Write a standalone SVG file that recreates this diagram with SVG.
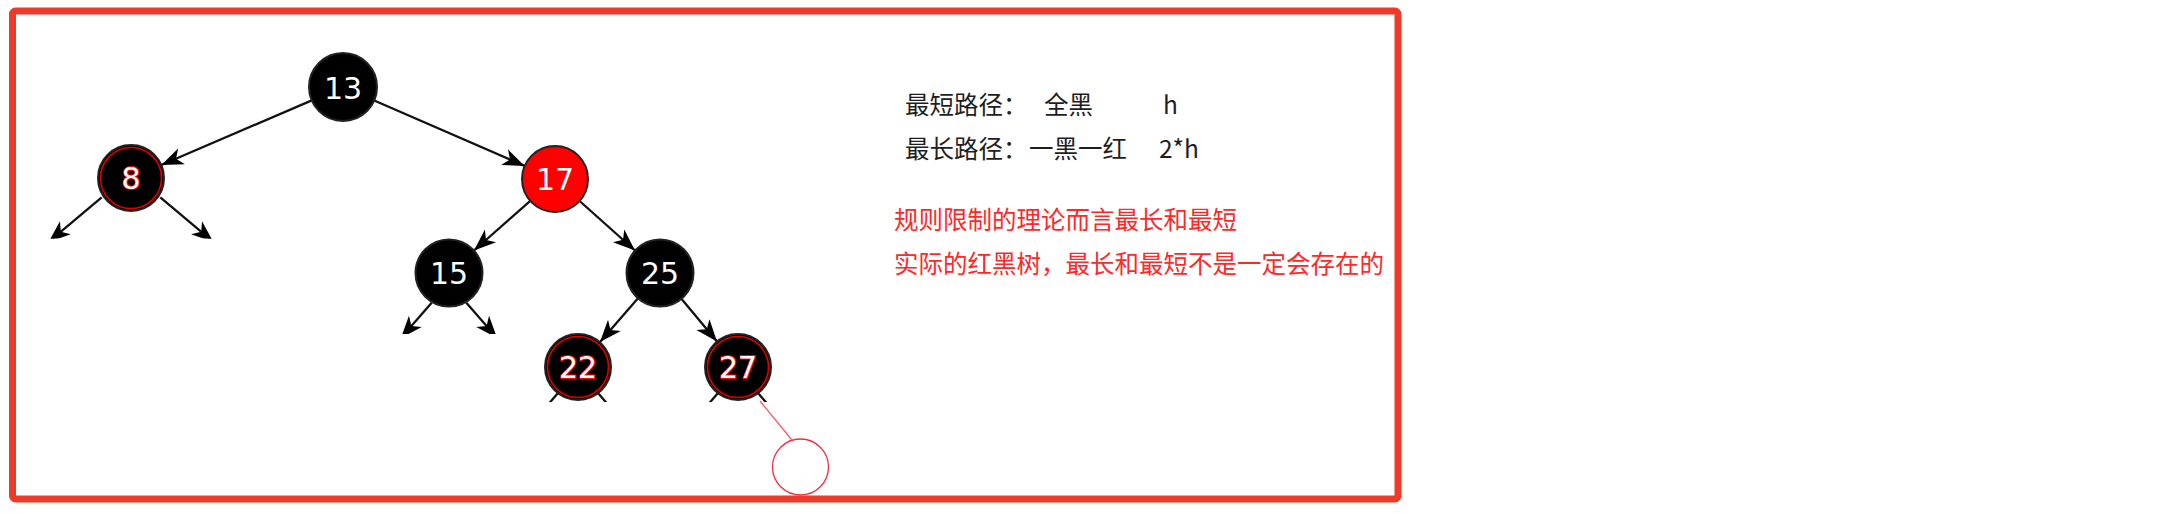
<svg xmlns="http://www.w3.org/2000/svg" width="2164" height="513" viewBox="0 0 2164 513">
<style>
.edge{stroke:#111;stroke-width:2.3;fill:none}
.blk{fill:#000;stroke:#222;stroke-width:2}
.red{fill:#ff0000;stroke:#222;stroke-width:2}
.ring{fill:none;stroke:#e00000;stroke-width:1.6}
.num{font-family:"DejaVu Sans",sans-serif;font-size:30px;text-anchor:middle;fill:#fff}
.rnum{font-family:"DejaVu Sans",sans-serif;font-size:30px;text-anchor:middle;fill:#fff;stroke:#ff0000;stroke-width:2;paint-order:stroke}
.cn{font-family:"Noto Sans CJK SC",sans-serif;font-size:24.5px;fill:#1e1e1e}
.cnr{font-family:"Noto Sans CJK SC",sans-serif;font-size:24.5px;fill:#ff2828}
</style>
<defs>
<marker id="arr" markerUnits="userSpaceOnUse" markerWidth="26" markerHeight="20" viewBox="-23 -10 24 20" refX="0" refY="0" orient="auto">
<path d="M0,0 L-22,-8.5 L-16,0 L-22,8.5 Z" fill="#000"/>
</marker>
<clipPath id="c1"><rect x="0" y="0" width="1400" height="238.5"/></clipPath>
<clipPath id="c2"><rect x="0" y="0" width="1400" height="334"/></clipPath>
<clipPath id="c3"><rect x="0" y="0" width="1400" height="402"/></clipPath>
</defs>
<rect width="2164" height="513" fill="#fff"/>
<g id="connectors">
<line class="edge" x1="311.8" y1="100.4" x2="161.3" y2="165" marker-end="url(#arr)"/>
<line class="edge" x1="374.2" y1="100.5" x2="524.7" y2="165.9" marker-end="url(#arr)"/>
<line class="edge" x1="530.3" y1="200.9" x2="474" y2="250.5" marker-end="url(#arr)"/>
<line class="edge" x1="579.6" y1="201" x2="635" y2="250.5" marker-end="url(#arr)"/>
<line class="edge" x1="638" y1="298.3" x2="600" y2="342" marker-end="url(#arr)"/>
<line class="edge" x1="681.4" y1="298.8" x2="717" y2="341.6" marker-end="url(#arr)"/>
<g clip-path="url(#c1)">
<line class="edge" x1="101.7" y1="197.3" x2="48.6" y2="242" marker-end="url(#arr)"/>
<line class="edge" x1="160.3" y1="197.3" x2="213.4" y2="242" marker-end="url(#arr)"/>
</g>
<g clip-path="url(#c2)">
<line class="edge" x1="431.7" y1="302.7" x2="400.9" y2="338" marker-end="url(#arr)"/>
<line class="edge" x1="466.3" y1="302.7" x2="497.1" y2="338" marker-end="url(#arr)"/>
</g>
<g clip-path="url(#c3)">
<line class="edge" x1="558" y1="393" x2="540" y2="414"/>
<line class="edge" x1="598" y1="393" x2="616" y2="414"/>
<line class="edge" x1="718" y1="393" x2="700" y2="414"/>
<line class="edge" x1="758" y1="393" x2="776" y2="414"/>
</g>
<line x1="760" y1="401" x2="791.5" y2="439.5" stroke="#f56" stroke-width="1.3"/>
</g>
<g id="n13"><circle class="blk" cx="343" cy="87" r="34"/><text class="num" x="343" y="99">13</text></g>
<g id="n8"><circle class="blk" cx="131" cy="178" r="33"/><circle class="ring" cx="131" cy="178" r="30.5"/><text class="rnum" x="131" y="189">8</text></g>
<g id="n17"><circle class="red" cx="555" cy="179" r="33"/><text class="num" x="555" y="190">17</text></g>
<g id="n15"><circle class="blk" cx="449" cy="273" r="33.5"/><text class="num" x="449" y="284">15</text></g>
<g id="n25"><circle class="blk" cx="660" cy="273" r="33.5"/><text class="num" x="660" y="284">25</text></g>
<g id="n22"><circle class="blk" cx="578" cy="367" r="33"/><circle class="ring" cx="578" cy="367" r="30.5"/><text class="rnum" x="578" y="378">22</text></g>
<g id="n27"><circle class="blk" cx="738" cy="367" r="33"/><circle class="ring" cx="738" cy="367" r="30.5"/><text class="rnum" x="738" y="378">27</text></g>
<g id="nil"><circle cx="800.5" cy="467" r="28" fill="none" stroke="#f03040" stroke-width="1.3"/></g>
<g id="notes">
<text class="cn" y="114"><tspan x="905">最短路径：</tspan><tspan x="1044">全黑</tspan><tspan x="1163">h</tspan></text>
<text class="cn" y="157.5"><tspan x="905">最长路径：</tspan><tspan x="1029">一黑一红</tspan><tspan x="1159">2*h</tspan></text>
<text class="cnr" x="894" y="229">规则限制的理论而言最长和最短</text>
<text class="cnr" x="894" y="272.5">实际的红黑树，最长和最短不是一定会存在的</text>
</g>
<rect id="frame" x="12.5" y="11" width="1385.5" height="488" rx="3" fill="none" stroke="#ee3a28" stroke-width="7"/>
</svg>
